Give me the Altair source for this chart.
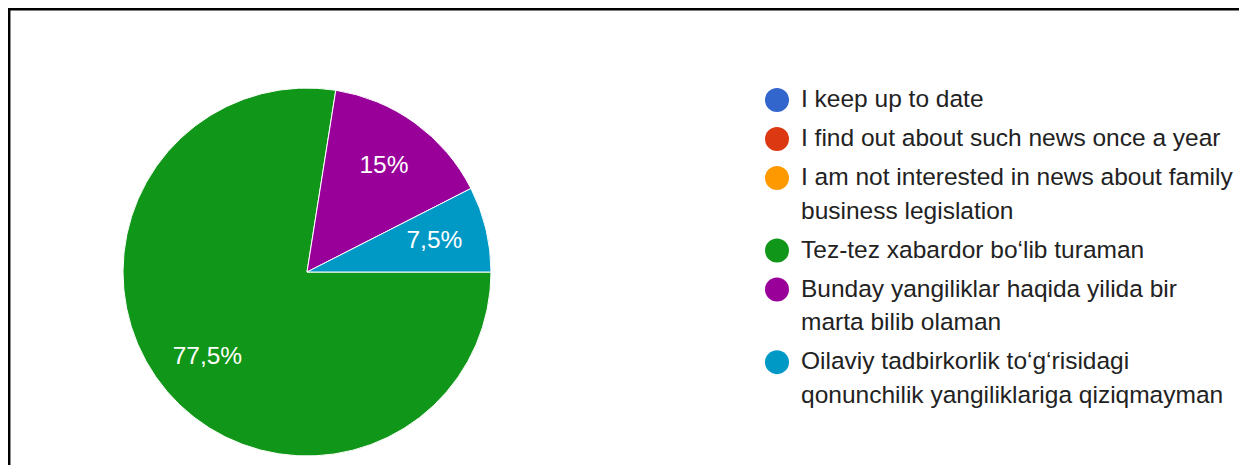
import math
import altair as alt
import pandas as pd

# ---- data ----
categories = [
    "I keep up to date",
    "I find out about such news once a year",
    "I am not interested in news about family business legislation",
    "Tez-tez xabardor bo\u2018lib turaman",
    "Bunday yangiliklar haqida yilida bir marta bilib olaman",
    "Oilaviy tadbirkorlik to\u2018g\u2018risidagi qonunchilik yangiliklariga qiziqmayman",
]
shares = [0, 0, 0, 77.5, 15, 7.5]
slice_labels = ["", "", "", "77,5%", "15%", "7,5%"]
legend_lines = [
    ["I keep up to date"],
    ["I find out about such news once a year"],
    ["I am not interested in news about family", "business legislation"],
    ["Tez-tez xabardor bo\u2018lib turaman"],
    ["Bunday yangiliklar haqida yilida bir", "marta bilib olaman"],
    ["Oilaviy tadbirkorlik to\u2018g\u2018risidagi", "qonunchilik yangiliklariga qiziqmayman"],
]
colors = ["#3366cc", "#dc3912", "#ff9900", "#109618", "#990099", "#0099c6"]

FONT = "Liberation Sans"
W, H = 1231, 457
CX, CY, R = 299, 264, 184

pie_df = pd.DataFrame({
    "category": categories,
    "share": shares,
    "idx": list(range(len(categories))),
    "label": slice_labels,
})

sym_rows, line_rows = [], []
row = 0
for i, lines in enumerate(legend_lines):
    sym_rows.append({"category": categories[i], "row": row, "entry": i})
    for t in lines:
        line_rows.append({"text": t, "row": row, "entry": i})
        row += 1
sym_df = pd.DataFrame(sym_rows)
line_df = pd.DataFrame(line_rows)

color_scale = alt.Scale(domain=categories, range=colors)
theta_scale = alt.Scale(range=[math.pi / 2, math.pi / 2 + 2 * math.pi])
y_scale = alt.Scale(domain=[0, 9], range=[92, 393.5])

pie = alt.Chart(pie_df).mark_arc(outerRadius=R, stroke="white", strokeWidth=1).encode(
    theta=alt.Theta("share:Q", stack=True, scale=theta_scale),
    color=alt.Color("category:N", scale=color_scale, legend=None),
    order=alt.Order("idx:Q"),
    x=alt.value(CX),
    y=alt.value(CY),
)

labels = alt.Chart(pie_df).transform_filter("datum.share > 0").mark_text(
    radius=131, fontSize=24.5, color="white", font=FONT
).encode(
    theta=alt.Theta("share:Q", stack=True, scale=theta_scale),
    order=alt.Order("idx:Q"),
    text="label:N",
    x=alt.value(CX),
    y=alt.value(CY),
)

symbols = alt.Chart(sym_df).transform_calculate(
    pos="datum.row + datum.entry * 0.165"
).mark_point(filled=True, shape="circle", size=576, opacity=1).encode(
    x=alt.value(769),
    y=alt.Y("pos:Q", scale=y_scale, axis=None),
    color=alt.Color("category:N", scale=color_scale, legend=None),
)

texts = alt.Chart(line_df).transform_calculate(
    pos="datum.row + datum.entry * 0.165"
).mark_text(align="left", baseline="middle", fontSize=24.5, color="#222222", font=FONT).encode(
    x=alt.value(793),
    y=alt.Y("pos:Q", scale=y_scale, axis=None),
    text="text:N",
)

frame_df = pd.DataFrame({"k": [0]})
top_line = alt.Chart(frame_df).mark_rule(color="black", strokeWidth=2.5).encode(
    x=alt.value(0), x2=alt.value(W), y=alt.value(1.2)
)
left_line = alt.Chart(frame_df).mark_rule(color="black", strokeWidth=2.5).encode(
    x=alt.value(1.2), y=alt.value(0), y2=alt.value(H)
)

chart = alt.layer(pie, labels, symbols, texts, top_line, left_line).properties(
    width=W, height=H, padding=0,
    autosize=alt.AutoSizeParams(type="none"),
    background="white",
).configure_view(stroke=None)

chart.save("out.html", embed_options={"renderer": "svg", "actions": False})
